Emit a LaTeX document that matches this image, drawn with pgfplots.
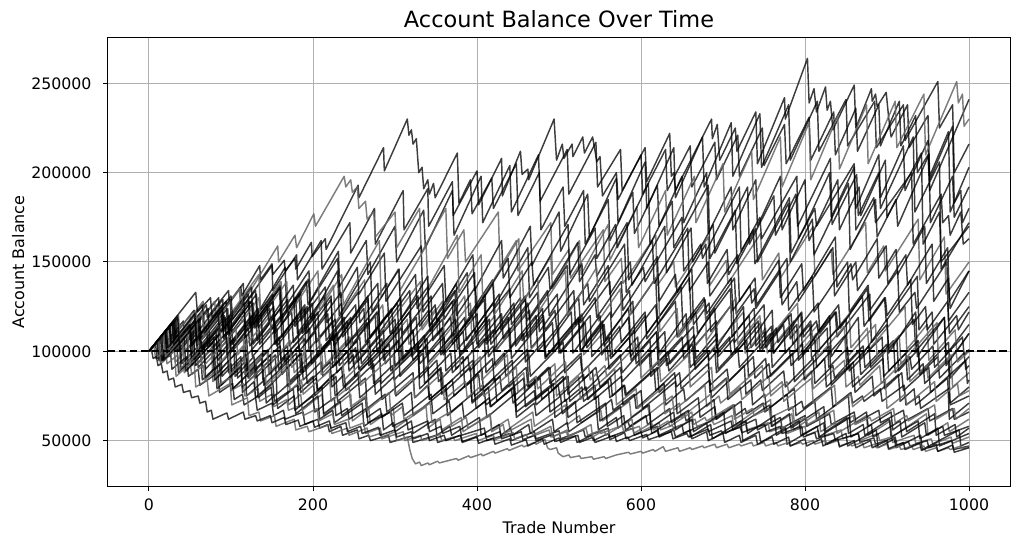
\documentclass[border=0pt]{standalone}
\usepackage{fontspec}
\setmainfont{DejaVu Sans}
\usepackage{pgfplots}
\pgfplotsset{compat=1.18}
% balances are in thousands; tick labels show the full numbers
\pgfplotsset{
  dk/.style={black, opacity=0.76, line width=1.45bp},
  gy/.style={black!60, opacity=0.85, line width=1.45bp},
}
\begin{document}
\begin{tikzpicture}
\begin{axis}[
  at={(0,0)}, anchor=south west,
  width=902bp, height=448bp, scale only axis,
  xmin=-50, xmax=1050, ymin=24.6, ymax=275.4,
  xtick={0,200,400,600,800,1000}, xticklabels={0,200,400,600,800,1000},
  ytick={50,100,150,200,250}, yticklabels={50000,100000,150000,200000,250000},
  xtick pos=bottom, ytick pos=left,
  tick align=outside, major tick length=5bp,
  tick style={black, line width=1bp},
  axis line style={line width=1bp},
  grid=major, grid style={color=black!31, line width=1bp},
  ticklabel style={font=\fontsize{15.8}{18}\selectfont},
  xticklabel style={anchor=base, yshift=-19.5bp},
  yticklabel style={anchor=east, xshift=-8bp},
  xlabel={Trade Number}, ylabel={Account Balance},
  label style={font=\fontsize{16}{19}\selectfont},
  xlabel style={at={(axis description cs:0.5,-0.105)}, anchor=base},
  ylabel style={at={(axis description cs:-0.093,0.5)}, anchor=base},
  title={Account Balance Over Time},
  title style={font=\fontsize{22.5}{26}\selectfont, at={(axis description cs:0.5,1.0105)}, anchor=base},
  every axis plot/.append style={line join=round, no markers},
]
% L1
\addplot[dk] coordinates {(0,100)(18,110)(19,104)(42,117)(43,110)(70,126)(71,119)(97,134)(98,127)(112,136)(113,131)(135,148)(136,140)(150,149)(151,143)(165,151)(166,145)(178,152)(179,146)(198,161)(199,153)(215,163)(216,157)(255,193)(256,186)(286,214)(287,201)(315,230)(317,221)(320,224)(322,216)(326,219)(329,200)(333,203)(335,191)(340,196)(342,188)(347,194)(349,186)(376,211)(378,183)(392,196)(394,177)(418,197)(420,180)(448,205)(450,176)(476,200)(478,168)(505,192)(507,170)(530,190)(532,160)(560,185)(562,162)(590,189)(592,166)(620,193)(622,170)(650,198)(652,172)(680,200)(682,166)(710,192)(712,168)(740,196)(742,170)(770,198)(772,168)(800,196)(802,172)(830,200)(832,175)(860,203)(862,180)(890,210)(892,186)(920,215)(922,190)(950,218)(952,196)(980,226)(982,183)(990,190)(992,172)(1000,180)};
% L2
\addplot[dk] coordinates {(0,100)(25,113)(26,106)(55,123)(56,114)(85,130)(86,120)(115,138)(116,126)(150,148)(151,134)(180,154)(181,140)(210,162)(211,146)(245,172)(246,155)(275,180)(276,160)(310,190)(311,168)(340,191)(341,170)(370,195)(371,176)(400,201)(402,182)(430,208)(431,187)(453,212)(455,199)(462,202)(463,196)(494,230)(497,207)(504,216)(506,208)(516,216)(517,209)(529,220)(531,211)(541,220)(544,212)(546,206)(550,209)(553,187)(570,200)(572,185)(600,210)(602,188)(630,213)(632,190)(660,215)(662,192)(690,217)(692,196)(718,221)(720,198)(748,225)(750,204)(775,227)(777,205)(805,231)(807,207)(835,234)(837,210)(862,236)(864,212)(890,238)(892,215)(915,240)(917,215)(935,232)(937,200)(950,210)(952,190)(1000,241)};
% L3
\addplot[dk] coordinates {(0,100)(8,104)(10,96)(35,109)(37,100)(62,114)(64,104)(92,120)(94,109)(125,128)(127,115)(160,137)(162,122)(195,145)(197,128)(230,152)(232,136)(265,162)(267,143)(300,170)(302,150)(335,179)(337,158)(370,190)(372,165)(405,198)(407,172)(440,204)(442,178)(475,210)(477,184)(510,213)(512,188)(545,217)(547,192)(575,213)(577,190)(605,214)(607,195)(635,222)(637,198)(640,200)(642,190)(686,230)(687,219)(693,227)(696,207)(715,225)(717,212)(740,234)(742,205)(775,242)(776,230)(803,264)(805,239)(811,247)(814,234)(825,248)(827,235)(831,240)(834,224)(860,249)(862,225)(881,247)(882,240)(886,244)(888,237)(899,245)(902,231)(905,220)(925,238)(927,214)(950,232)(952,198)(975,223)(977,178)(1000,203)};
% L4
\addplot[gy] coordinates {(0,100)(20,111)(22,104)(50,120)(52,111)(80,128)(82,118)(110,135)(112,125)(157,159)(158,150)(178,165)(180,158)(201,177)(203,170)(238,198)(240,192)(246,196)(248,189)(254,192)(256,180)(264,184)(266,174)(274,178)(276,164)(300,178)(302,158)(330,180)(332,155)(362,180)(364,152)(384,168)(386,150)(426,178)(428,147)(448,162)(450,145)(490,172)(492,143)(512,157)(514,141)(554,168)(556,139)(576,152)(578,138)(618,165)(620,137)(640,150)(642,136)(682,164)(684,137)(704,151)(706,138)(746,166)(748,140)(768,155)(770,141)(810,170)(812,142)(832,157)(834,143)(874,172)(876,144)(896,159)(898,145)(938,174)(940,140)(970,164)(972,132)(1000,150)};
% L5
\addplot[dk] coordinates {(0,100)(15,108)(17,97)(40,109)(42,99)(70,114)(72,102)(100,118)(102,104)(130,121)(132,106)(160,124)(162,108)(190,126)(192,110)(222,129)(224,113)(255,133)(257,116)(290,138)(292,120)(325,143)(327,124)(360,148)(362,128)(395,154)(397,134)(430,162)(432,141)(465,170)(467,148)(500,178)(502,156)(535,188)(537,164)(570,197)(572,172)(605,206)(607,180)(640,214)(642,186)(675,220)(677,192)(710,228)(712,198)(745,233)(747,203)(780,238)(782,207)(815,240)(817,212)(850,241)(852,215)(885,240)(887,214)(920,238)(922,218)(962,251)(964,225)(980,238)(982,200)(1000,216)};
% L6
\addplot[gy] coordinates {(0,100)(10,105)(12,96)(30,104)(32,94)(55,105)(57,92)(85,105)(87,90)(115,103)(117,88)(145,101)(147,87)(175,100)(177,88)(210,104)(212,91)(245,108)(247,95)(280,113)(282,99)(315,118)(317,104)(350,124)(352,109)(385,131)(387,115)(420,138)(422,121)(455,145)(457,128)(490,153)(492,135)(525,162)(527,143)(560,171)(562,151)(595,181)(597,158)(630,190)(632,165)(665,198)(667,172)(700,205)(702,178)(735,212)(737,185)(770,220)(772,192)(805,228)(807,196)(840,232)(842,202)(875,238)(877,205)(910,240)(912,214)(945,244)(947,210)(985,251)(987,239)(992,244)(994,226)(1000,230)};
% L7
\addplot[dk] coordinates {(0,100)(12,106)(14,95)(38,107)(40,93)(58,102)(60,91)(95,108)(97,88)(118,98)(120,86)(160,103)(162,87)(185,99)(187,88)(230,110)(232,92)(252,102)(254,94)(300,118)(302,100)(322,111)(324,102)(370,128)(372,107)(395,120)(397,110)(440,135)(442,115)(462,127)(464,118)(510,148)(512,123)(535,138)(537,128)(580,160)(582,133)(603,147)(605,139)(650,175)(652,145)(673,160)(675,152)(720,192)(722,156)(745,175)(747,163)(790,198)(792,163)(812,180)(814,170)(860,205)(862,168)(884,186)(886,172)(930,200)(932,160)(966,188)(968,172)(975,176)(977,165)(990,178)(993,160)(1000,163)};
% L8
\addplot[dk] coordinates {(0,100)(25,114)(27,101)(60,119)(62,100)(82,111)(84,95)(124,117)(126,97)(156,113)(158,90)(183,103)(185,88)(225,108)(227,92)(257,108)(259,93)(284,107)(286,95)(326,119)(328,101)(358,118)(360,104)(385,119)(387,106)(427,132)(429,112)(459,131)(461,117)(486,134)(488,120)(528,149)(530,126)(560,148)(562,132)(587,150)(589,137)(629,170)(631,144)(661,169)(663,150)(688,171)(690,155)(730,192)(732,160)(762,187)(764,165)(789,188)(791,170)(831,208)(833,171)(863,199)(865,176)(890,200)(892,180)(932,220)(934,178)(964,206)(966,146)(1000,172)};
% L9
\addplot[dk] coordinates {(0,100)(30,117)(32,104)(50,114)(52,103)(94,128)(96,112)(122,128)(124,113)(159,135)(161,118)(183,132)(185,117)(215,136)(217,116)(235,127)(237,112)(279,138)(281,114)(307,130)(309,110)(344,131)(346,106)(368,119)(370,104)(400,121)(402,102)(420,112)(422,100)(464,123)(466,102)(492,116)(494,100)(529,119)(531,104)(553,117)(555,106)(585,124)(587,109)(605,120)(607,110)(649,136)(651,114)(677,130)(679,118)(714,141)(716,121)(738,135)(740,124)(770,145)(772,126)(790,139)(792,128)(834,158)(836,131)(862,150)(864,134)(899,159)(901,138)(923,154)(925,137)(955,160)(957,128)(975,141)(977,124)(1000,145)};
% L10
\addplot[dk] coordinates {(0,100)(20,111)(22,98)(52,114)(54,95)(79,108)(81,90)(119,109)(121,88)(137,96)(139,84)(167,97)(169,80)(203,95)(205,78)(225,87)(227,75)(255,87)(257,74)(282,84)(284,73)(322,88)(324,74)(340,81)(342,73)(370,84)(372,75)(406,90)(408,77)(428,86)(430,78)(460,91)(462,80)(487,91)(489,82)(527,99)(529,84)(545,91)(547,85)(575,98)(577,88)(611,106)(613,90)(633,100)(635,93)(665,109)(667,96)(692,110)(694,99)(732,120)(734,102)(750,111)(752,104)(780,120)(782,107)(816,127)(818,110)(838,122)(840,112)(870,131)(872,114)(897,130)(899,117)(937,142)(939,112)(955,122)(957,104)(985,120)(987,112)(1000,122)};
% L11
\addplot[dk] coordinates {(0,100)(35,120)(37,104)(59,117)(61,105)(89,122)(91,107)(131,132)(133,113)(152,125)(154,113)(185,133)(187,110)(222,131)(224,106)(246,119)(248,104)(276,120)(278,100)(318,122)(320,97)(339,107)(341,94)(372,110)(374,90)(409,107)(411,88)(433,99)(435,86)(463,99)(465,86)(505,105)(507,88)(526,97)(528,88)(559,103)(561,90)(596,108)(598,92)(620,103)(622,94)(650,108)(652,96)(692,117)(694,97)(713,107)(715,99)(746,116)(748,101)(783,121)(785,104)(807,117)(809,106)(837,122)(839,108)(879,132)(881,105)(900,115)(902,101)(933,118)(935,100)(970,119)(972,98)(1000,115)};
% L12
\addplot[gy] coordinates {(0,100)(28,116)(30,106)(66,128)(68,114)(88,126)(90,115)(134,143)(136,123)(161,139)(163,120)(195,141)(197,118)(225,137)(227,116)(263,140)(265,113)(285,126)(287,112)(331,139)(333,112)(358,128)(360,108)(392,127)(394,104)(422,120)(424,101)(460,122)(462,99)(482,110)(484,97)(528,121)(530,98)(555,111)(557,95)(589,112)(591,96)(619,111)(621,97)(657,117)(659,99)(679,110)(681,98)(725,122)(727,99)(752,113)(754,99)(786,117)(788,100)(816,115)(818,101)(854,121)(856,102)(876,113)(878,101)(922,125)(924,101)(949,115)(951,95)(983,112)(985,100)(1000,110)};
% L13
\addplot[dk] coordinates {(0,100)(18,110)(20,96)(46,110)(48,92)(82,109)(84,88)(106,99)(108,85)(138,99)(140,81)(180,99)(182,78)(200,86)(202,75)(228,86)(230,72)(264,85)(266,68)(288,76)(290,66)(320,77)(322,64)(362,79)(364,64)(382,71)(384,63)(410,72)(412,63)(446,76)(448,63)(470,71)(472,64)(502,75)(504,65)(544,81)(546,66)(564,73)(566,67)(592,76)(594,68)(628,82)(630,70)(652,79)(654,72)(684,84)(686,74)(726,92)(728,76)(746,84)(748,78)(774,89)(776,80)(810,96)(812,82)(834,92)(836,85)(866,100)(868,87)(908,106)(910,88)(928,97)(930,90)(956,103)(958,91)(992,108)(994,98)(1000,101)};
% L14
\addplot[dk] coordinates {(0,100)(32,118)(34,100)(58,113)(60,99)(98,120)(100,101)(121,113)(123,103)(152,120)(154,104)(189,124)(191,105)(218,121)(220,107)(252,126)(254,108)(278,122)(280,110)(318,134)(320,110)(341,123)(343,111)(372,129)(374,108)(409,129)(411,104)(438,119)(440,102)(472,120)(474,100)(498,113)(500,99)(538,120)(540,97)(561,108)(563,96)(592,111)(594,93)(629,111)(631,92)(658,106)(660,91)(692,107)(694,90)(718,102)(720,91)(758,110)(760,91)(781,102)(783,92)(812,107)(814,91)(849,109)(851,90)(878,103)(880,91)(912,107)(914,89)(938,101)(940,88)(975,105)(977,85)(1000,97)};
% L15
\addplot[dk] coordinates {(0,100)(22,112)(24,97)(54,113)(56,92)(98,112)(100,88)(119,97)(121,85)(148,98)(150,82)(186,99)(188,84)(210,94)(212,86)(242,100)(244,89)(286,112)(288,93)(307,103)(309,95)(336,109)(338,98)(374,118)(376,101)(398,113)(400,104)(430,121)(432,107)(474,133)(476,111)(495,123)(497,113)(524,130)(526,116)(562,139)(564,119)(586,134)(588,121)(618,141)(620,118)(662,146)(664,115)(683,127)(685,111)(712,127)(714,105)(750,126)(752,102)(774,115)(776,99)(806,115)(808,96)(850,118)(852,94)(871,103)(873,91)(900,104)(902,89)(938,106)(940,87)(962,97)(964,85)(994,99)(996,90)(1000,92)};
% L16
\addplot[gy] coordinates {(0,100)(15,108)(17,94)(41,106)(43,88)(76,104)(78,83)(98,92)(100,78)(128,90)(130,74)(168,90)(170,70)(185,76)(187,67)(211,76)(213,64)(246,76)(248,61)(268,68)(270,59)(298,68)(300,57)(338,69)(340,57)(355,62)(357,56)(381,63)(383,55)(416,65)(418,56)(438,62)(440,57)(468,66)(470,58)(508,70)(510,59)(525,64)(527,60)(551,67)(553,61)(586,72)(588,63)(608,70)(610,65)(638,75)(640,67)(678,81)(680,69)(695,75)(697,71)(721,80)(723,73)(756,86)(758,75)(778,83)(780,77)(808,89)(810,79)(848,95)(850,80)(865,86)(867,81)(891,92)(893,82)(926,97)(928,83)(948,92)(950,85)(978,98)(980,80)(1000,88)};
% L17
\addplot[dk] coordinates {(0,100)(26,114)(28,104)(65,126)(67,110)(88,123)(90,112)(121,132)(123,114)(166,147)(168,122)(192,139)(194,126)(231,156)(233,130)(254,147)(256,132)(287,155)(289,128)(332,159)(334,122)(358,138)(360,118)(397,144)(399,114)(420,127)(422,110)(453,130)(455,106)(498,132)(500,104)(524,118)(526,100)(563,122)(565,97)(586,108)(588,95)(619,111)(621,92)(664,114)(666,90)(690,102)(692,88)(729,106)(731,86)(752,96)(754,85)(785,99)(787,83)(830,103)(832,81)(856,92)(858,80)(895,96)(897,79)(918,88)(920,78)(951,91)(953,77)(996,95)(998,82)(1000,84)};
% L18
\addplot[dk] coordinates {(0,100)(19,110)(21,96)(50,111)(52,92)(87,110)(89,86)(112,97)(114,80)(154,98)(156,76)(183,87)(185,77)(204,85)(206,78)(235,91)(237,80)(272,96)(274,82)(297,92)(299,84)(339,103)(341,86)(368,99)(370,88)(389,97)(391,89)(420,103)(422,92)(457,110)(459,94)(482,106)(484,97)(524,119)(526,100)(553,115)(555,103)(574,114)(576,105)(605,122)(607,107)(642,128)(644,108)(667,122)(669,110)(709,135)(711,108)(738,124)(740,103)(759,114)(761,99)(790,115)(792,95)(827,113)(829,91)(852,102)(854,89)(894,108)(896,86)(923,99)(925,84)(944,93)(946,82)(975,95)(977,71)(1000,80)};
% L19
\addplot[dk] coordinates {(0,100)(12,107)(14,94)(34,104)(36,88)(63,101)(65,84)(81,91)(83,79)(117,94)(119,75)(141,84)(143,71)(155,76)(157,68)(177,75)(179,65)(206,75)(208,62)(224,67)(226,60)(260,71)(262,58)(284,65)(286,56)(298,60)(300,55)(320,61)(322,54)(349,62)(351,53)(367,58)(369,53)(403,63)(405,53)(427,59)(429,53)(441,57)(443,53)(463,59)(465,54)(492,62)(494,55)(510,60)(512,55)(546,66)(548,56)(570,63)(572,57)(584,61)(586,58)(606,64)(608,59)(635,68)(637,60)(653,65)(655,61)(689,73)(691,62)(713,70)(715,64)(727,68)(729,65)(749,71)(751,66)(778,76)(780,67)(796,72)(798,68)(832,80)(834,69)(856,77)(858,71)(870,75)(872,72)(892,79)(894,72)(921,81)(923,70)(939,75)(941,68)(975,79)(977,70)(1000,75)};
% L20
\addplot[dk] coordinates {(0,100)(30,117)(32,105)(49,115)(51,106)(90,129)(91,111)(116,127)(118,112)(151,132)(153,110)(174,122)(176,105)(206,122)(208,100)(225,109)(227,96)(266,116)(268,92)(293,104)(295,89)(328,104)(330,85)(351,95)(353,83)(383,97)(385,80)(402,87)(404,78)(443,95)(445,75)(470,85)(472,73)(505,86)(507,72)(528,80)(530,72)(560,83)(562,74)(579,81)(581,75)(620,91)(622,77)(647,88)(649,79)(682,93)(684,81)(705,90)(707,83)(737,97)(739,85)(756,93)(758,86)(797,104)(799,84)(824,96)(826,80)(859,94)(861,77)(882,86)(884,75)(914,87)(916,72)(933,79)(935,70)(974,85)(976,62)(1000,71)};
% L21
\addplot[dk] coordinates {(0,100)(10,105)(12,95)(26,101)(28,90)(46,97)(48,86)(60,90)(62,81)(84,88)(86,77)(102,82)(104,73)(114,76)(116,70)(130,74)(132,67)(150,71)(152,64)(164,67)(166,62)(188,66)(190,59)(206,62)(208,57)(218,59)(220,55)(234,58)(236,53)(254,56)(256,51)(268,53)(270,50)(292,53)(294,49)(320,52.5)(322,49)(350,53)(352,49)(380,53)(382,49.5)(410,54)(412,50)(440,54)(442,50)(470,55)(472,51)(500,55.5)(502,51)(530,56)(532,52)(560,57)(562,52)(590,57)(592,53)(620,58)(622,53)(650,59)(652,54)(680,60)(682,55)(710,61)(712,56)(740,62)(742,56)(770,63)(772,57)(800,64)(802,58)(830,65)(832,59)(860,66)(862,60)(890,67)(892,60)(920,67)(922,61)(950,68)(952,61)(980,68)(982,62)(1000,66)};
% L22
\addplot[gy] coordinates {(0,100)(24,113)(26,98)(57,114)(59,93)(77,102)(79,90)(115,108)(117,87)(144,100)(146,88)(188,108)(190,89)(214,101)(216,92)(247,108)(249,93)(267,102)(269,94)(305,113)(307,93)(334,107)(336,90)(378,111)(380,86)(404,97)(406,84)(437,98)(439,80)(457,88)(459,78)(495,93)(497,75)(524,86)(526,73)(568,90)(570,70)(594,79)(596,68)(627,80)(629,65)(647,71)(649,63)(685,76)(687,61)(714,70)(716,59)(758,73)(760,58)(784,65)(786,56)(817,66)(819,55)(837,60)(839,54)(875,64)(877,53)(904,61)(906,52)(948,65)(950,53)(974,60)(976,55)(1000,62)};
% L23
\addplot[dk] coordinates {(0,100)(20,111)(22,97)(50,112)(52,94)(67,102)(69,90)(103,107)(105,86)(128,97)(130,85)(169,103)(171,83)(191,92)(193,82)(221,94)(223,80)(238,87)(240,78)(274,93)(276,76)(299,86)(301,75)(340,91)(342,73)(362,81)(364,72)(392,83)(394,71)(409,77)(411,70)(445,83)(447,69)(470,78)(472,70)(511,86)(513,72)(533,80)(535,73)(563,85)(565,75)(580,81)(582,76)(616,90)(618,78)(641,88)(643,80)(682,98)(684,77)(704,85)(706,73)(734,84)(736,70)(751,76)(753,67)(787,79)(789,64)(812,72)(814,62)(853,75)(855,60)(875,66)(877,58)(905,66)(907,56)(922,61)(924,55)(958,65)(960,53)(983,59)(985,52)(1000,57)};
% L24
\addplot[dk] coordinates {(0,100)(33,118)(35,104)(57,117)(59,105)(99,129)(101,111)(127,127)(129,113)(147,124)(149,112)(179,130)(181,110)(214,131)(216,106)(238,119)(240,103)(280,126)(282,99)(308,113)(310,96)(328,105)(330,93)(360,108)(362,89)(395,105)(397,86)(419,96)(421,83)(461,101)(463,80)(489,91)(491,78)(509,86)(511,76)(541,89)(543,73)(576,86)(578,70)(600,78)(602,68)(642,83)(644,65)(670,74)(672,63)(690,69)(692,62)(722,72)(724,60)(757,70)(759,58)(781,65)(783,57)(823,69)(825,55)(851,63)(853,54)(871,59)(873,53)(903,62)(905,52)(938,61)(940,51)(962,57)(964,47)(1000,54)};
% L25
\addplot[gy] coordinates {(0,100)(12,106)(14,93)(31,101)(33,86)(55,95)(57,80)(71,84)(73,75)(99,82)(101,70)(120,74)(122,64)(134,66)(136,61)(153,64)(155,58)(177,62)(179,56)(193,58)(195,55)(221,59)(223,54)(242,57)(244,53)(266,57)(268,52)(282,54)(284,51)(310,55)(312,50)(331,53)(333,50)(355,53.5)(357,50)(371,52)(373,50)(399,54)(401,50)(420,53)(422,50.5)(444,54.5)(446,51)(460,53.5)(462,51.5)(488,56)(490,52)(509,55)(511,52.5)(533,57)(535,53)(549,55.5)(551,54)(577,58.5)(579,55)(598,58)(600,55)(622,60)(624,56)(638,58.5)(640,57)(666,62)(668,58)(687,61)(689,59)(711,64)(713,58)(727,60.5)(729,56)(755,60)(757,55)(776,58)(778,54)(800,58)(802,53)(816,55.5)(818,52)(844,56)(846,51)(865,54)(867,50)(889,54)(891,50)(905,52)(907,49)(933,53)(935,48.5)(954,51)(956,48)(978,52)(980,48.5)(1000,52)};
% L26
\addplot[dk] coordinates {(0,100)(25,114)(27,100)(62,121)(64,102)(84,113)(86,101)(116,118)(118,97)(163,121)(165,94)(190,107)(192,92)(227,110)(229,88)(249,98)(251,86)(281,100)(283,82)(328,102)(330,79)(355,90)(357,76)(392,91)(394,72)(414,80)(416,69)(446,80)(448,66)(493,82)(495,63)(520,72)(522,60)(557,71)(559,58)(579,64)(581,56)(611,65)(613,54)(658,67)(660,52)(685,59)(687,51)(722,61)(724,50)(744,55)(746,49)(776,57)(778,48)(823,60)(825,48)(850,54)(852,47)(887,56)(889,46)(909,51)(911,46)(941,53)(943,45)(988,56)(990,47)(1000,49)};
% L27
\addplot[dk] coordinates {(0,100)(14,108)(16,95)(37,106)(39,90)(67,104)(69,85)(86,93)(88,81)(112,91)(114,77)(128,83)(130,74)(151,82)(153,72)(181,81)(183,69)(200,75)(202,66)(226,74)(228,64)(242,68)(244,62)(265,68)(267,60)(295,66)(297,58)(314,62)(316,56)(340,61)(342,55)(356,58)(358,54)(379,58)(381,53)(409,57)(411,52)(428,55)(430,51)(454,55)(456,50.5)(470,53)(472,50)(493,53.5)(495,49.5)(523,53)(525,49)(542,52)(544,49)(568,53)(570,49.5)(584,52)(586,50)(607,53.5)(609,50.5)(637,55)(639,51)(656,54)(658,52)(682,56.5)(684,53)(698,55.5)(700,54)(721,57.5)(723,54.5)(751,59)(753,55)(770,58)(772,54)(796,58)(798,52)(812,54.5)(814,51)(835,54)(837,50)(865,54)(867,49)(884,51.5)(886,48)(910,52)(912,47.5)(926,49.5)(928,47)(949,50)(951,46)(979,50)(981,45)(1000,47)};
% L28
\addplot[dk] coordinates {(0,100)(29,116)(31,101)(72,124)(74,103)(97,116)(99,104)(133,124)(135,104)(154,115)(156,103)(193,125)(195,101)(224,117)(226,103)(267,131)(269,107)(292,121)(294,110)(328,131)(330,114)(349,126)(351,117)(388,144)(390,120)(419,140)(421,125)(462,158)(464,130)(487,147)(489,135)(523,161)(525,139)(544,154)(546,142)(583,172)(585,140)(614,162)(616,138)(657,169)(659,134)(682,150)(684,131)(718,154)(720,128)(739,141)(741,126)(778,152)(780,123)(809,142)(811,122)(852,150)(854,122)(877,137)(879,123)(913,145)(915,122)(934,133)(936,124)(973,150)(975,117)(1000,133)};
% L29 (lowest)
\addplot[gy] coordinates {(0,100)(6,103)(8,96)(20,101)(22,93)(35,98)(37,90)(50,95)(52,87)(66,92)(68,84)(82,89)(84,81)(98,85)(100,78)(115,82)(117,75)(133,79)(135,72)(150,76)(152,69)(168,73)(170,67)(186,70)(188,64)(205,68)(207,61)(224,65)(226,59)(243,62)(245,57)(262,60)(264,54)(282,57)(284,52)(300,55)(302,50)(315,52)(318,45)(321,40)(325,37)(330,38)(332,36)(340,37.5)(342,36.5)(352,38.5)(354,37.5)(375,40)(377,39)(390,41.5)(392,40.5)(405,42.5)(407,41.5)(420,44)(422,43)(437,45.5)(439,44.5)(455,47.5)(457,46.5)(470,49)(472,48)(483,50.6)(486,46)(489,45)(497,46)(499,43)(505,41)(512,42)(514,40.5)(525,41.5)(527,40)(540,41)(542,39.6)(555,41)(557,40)(570,42)(585,43.5)(587,42.5)(600,44)(602,43)(615,45)(617,44)(627,46.6)(630,44)(645,46)(647,44)(660,46)(662,45)(675,47)(677,46)(690,48)(692,46)(705,48)(707,46)(720,48)(722,47)(735,49)(737,47)(750,49)(752,47)(765,49)(767,47)(780,49)(782,47)(795,49)(797,48)(810,50)(812,48)(825,50)(827,48)(840,50)(842,47)(855,49)(857,47)(870,49)(872,46)(885,48)(887,46)(900,48)(902,45)(915,47)(917,45)(930,47)(932,45)(945,47)(947,44)(960,46)(962,44)(975,46)(977,45)(990,47)(992,45.5)(1000,46.5)};
% L30
\addplot[dk] coordinates {(0,100)(3,101)(5,96)(9,97)(11,92)(15,93)(17,88)(22,89)(24,84)(30,85)(32,80)(40,81.5)(42,77)(50,78)(52,74)(60,75)(62,71)(69,72)(71,66)(76,67)(78,62)(95,65.5)(97,62)(115,66)(117,62)(130,64)(132,61)(148,64)(150,60)(165,63)(167,59)(182,61.5)(184,58)(200,61)(202,57.5)(220,61)(222,57)(240,60)(242,55)(258,58)(260,54)(280,57.5)(282,53)(300,56)(302,52)(320,55)(322,51)(340,54)(342,50)(360,53)(362,50)(380,53)(382,49)(400,52)(402,48.5)(420,51.5)(422,48)(440,51)(442,47.5)(460,50.5)(462,47)(480,51)(482,48)(500,51.5)(502,49)(520,52.5)(522,49)(540,53)(542,50)(560,54)(562,50.5)(580,54.5)(582,51)(600,55)(602,51.5)(620,55.5)(622,52)(640,56)(642,52)(660,56)(662,51)(680,55)(682,50)(700,54)(702,49)(720,53)(722,49)(740,53)(742,48)(760,52)(762,48)(780,52)(782,47)(800,51)(802,47)(820,51)(822,47)(840,51)(842,46.5)(860,50)(862,46)(880,50)(882,46)(900,50)(902,45.5)(920,49)(922,45)(940,48.5)(942,44.5)(960,48)(962,44)(980,47.5)(982,43.5)(1000,46)};
% L31
\addplot[gy] coordinates {(0,100)(36,120)(38,106)(65,122)(67,108)(111,135)(113,116)(134,130)(136,118)(168,139)(170,120)(206,145)(208,123)(235,143)(237,126)(281,162)(283,130)(304,146)(306,134)(338,159)(340,135)(376,165)(378,133)(405,154)(407,130)(451,163)(453,126)(474,141)(476,123)(508,145)(510,120)(546,147)(548,117)(575,135)(577,114)(621,143)(623,111)(644,124)(646,108)(678,127)(680,106)(716,130)(718,104)(745,120)(747,102)(791,127)(793,99)(814,110)(816,97)(848,114)(850,96)(886,115)(888,95)(915,109)(917,93)(961,116)(963,90)(984,100)(986,94)(1000,100)};
% L32
\addplot[dk] coordinates {(0,100)(16,109)(18,95)(43,108)(45,89)(78,105)(80,84)(100,93)(102,79)(131,92)(133,74)(149,80)(151,70)(176,79)(178,67)(211,80)(213,65)(233,72)(235,64)(264,74)(266,63)(282,68)(284,63)(309,71)(311,64)(344,76)(346,65)(366,72)(368,66)(397,77)(399,68)(415,74)(417,69)(442,79)(444,71)(477,85)(479,73)(499,81)(501,75)(530,87)(532,78)(548,85)(550,80)(575,91)(577,83)(610,99)(612,86)(632,96)(634,89)(663,104)(665,92)(681,100)(683,95)(708,108)(710,98)(743,117)(745,101)(765,113)(767,105)(796,122)(798,108)(814,117)(816,111)(841,126)(843,113)(876,135)(878,117)(898,130)(900,120)(929,140)(931,115)(947,125)(949,112)(974,128)(976,110)(1000,125)};
% L33
\addplot[dk] coordinates {(0,100)(31,117)(33,104)(56,117)(58,103)(96,124)(98,104)(125,120)(127,104)(169,129)(171,103)(202,121)(204,105)(227,118)(229,106)(267,129)(269,108)(296,124)(298,110)(340,136)(342,114)(373,134)(375,120)(398,136)(400,124)(438,152)(440,130)(467,150)(469,137)(511,171)(513,143)(544,169)(546,152)(569,171)(571,158)(609,194)(611,160)(638,184)(640,158)(682,193)(684,152)(715,179)(717,149)(740,169)(742,150)(780,183)(782,150)(809,174)(811,154)(853,194)(855,157)(886,185)(888,164)(911,185)(913,170)(951,210)(953,172)(980,198)(982,175)(1000,192)};
% L34
\addplot[gy] coordinates {(0,100)(22,112)(24,101)(58,121)(60,104)(86,120)(88,102)(106,113)(108,98)(148,120)(150,94)(172,106)(174,91)(208,108)(210,87)(236,99)(238,84)(256,92)(258,81)(298,98)(300,76)(322,85)(324,74)(358,88)(360,73)(386,83)(388,74)(406,81)(408,75)(448,91)(450,77)(472,86)(474,79)(508,94)(510,81)(536,92)(538,84)(556,92)(558,86)(598,105)(600,85)(622,95)(624,83)(658,98)(660,80)(686,91)(688,78)(706,85)(708,76)(748,92)(750,74)(772,83)(774,72)(808,85)(810,71)(836,81)(838,70)(856,76)(858,69)(898,84)(900,68)(922,76)(924,70)(958,83)(960,72)(986,82)(988,75)(1000,78)};
% L35
\addplot[gy] coordinates {(0,100)(18,110)(20,97)(47,111)(49,94)(63,101)(65,91)(97,107)(99,87)(121,98)(123,84)(141,92)(143,81)(170,93)(172,78)(186,84)(188,76)(220,89)(222,72)(244,80)(246,69)(264,75)(266,67)(293,77)(295,64)(309,69)(311,62)(343,71)(345,60)(367,66)(369,58)(387,63)(389,57)(416,64)(418,55)(432,59)(434,54)(466,62)(468,53)(490,58)(492,52)(510,56)(512,52)(539,59)(541,52)(555,56)(557,53)(589,62)(591,54)(613,60)(615,56)(633,61)(635,58)(662,66)(664,59)(678,63)(680,61)(712,70)(714,62)(736,68)(738,64)(756,68)(758,63)(785,69)(787,60)(801,63)(803,59)(835,67)(837,58)(859,64)(861,59)(879,63)(881,61)(908,68)(910,60)(924,64)(926,61)(958,70)(960,62)(982,68)(984,62)(1000,68)};
% L36
\addplot[dk] coordinates {(0,100)(28,116)(30,104)(50,115)(52,104)(89,125)(91,108)(116,123)(118,108)(151,128)(153,104)(181,120)(183,100)(203,111)(205,97)(242,117)(244,93)(269,106)(271,90)(304,106)(306,86)(334,99)(336,82)(356,91)(358,79)(395,95)(397,75)(422,85)(424,72)(457,85)(459,69)(487,79)(489,66)(509,73)(511,63)(548,75)(550,61)(575,69)(577,59)(610,70)(612,57)(640,66)(642,56)(662,62)(664,55)(701,66)(703,54)(728,61)(730,54)(763,64)(765,53)(793,61)(795,53)(815,58)(817,52)(854,63)(856,52)(881,59)(883,52)(916,61)(918,52)(946,60)(948,53)(968,58)(970,53)(1000,58)};
% L37
\addplot[dk] coordinates {(0,100)(35,119)(37,104)(61,118)(63,102)(93,119)(95,98)(137,121)(139,97)(159,108)(161,95)(196,113)(198,93)(222,105)(224,91)(254,106)(256,90)(298,111)(300,92)(320,102)(322,95)(357,113)(359,98)(383,111)(385,101)(415,118)(417,104)(459,129)(461,108)(481,120)(483,112)(518,134)(520,115)(544,130)(546,119)(576,139)(578,123)(620,153)(622,128)(642,143)(644,133)(679,160)(681,138)(705,157)(707,143)(737,168)(739,149)(781,186)(783,155)(803,173)(805,162)(840,196)(842,168)(866,192)(868,176)(898,207)(900,175)(942,211)(944,160)(964,178)(966,150)(1000,170)};
% L38
\addplot[dk] coordinates {(0,100)(21,112)(23,102)(56,121)(58,106)(84,122)(86,111)(125,136)(127,115)(144,126)(146,117)(176,137)(178,114)(199,127)(201,112)(234,133)(236,108)(262,124)(264,105)(303,127)(305,102)(322,112)(324,101)(354,118)(356,98)(377,110)(379,98)(412,119)(414,97)(440,113)(442,96)(481,118)(483,96)(500,105)(502,99)(532,116)(534,102)(555,115)(557,106)(590,128)(592,110)(618,126)(620,115)(659,141)(661,118)(678,129)(680,121)(710,141)(712,123)(733,137)(735,127)(768,151)(770,130)(796,149)(798,134)(837,164)(839,136)(856,149)(858,140)(888,163)(890,141)(911,157)(913,143)(946,170)(948,138)(974,158)(976,128)(1000,145)};
% L39
\addplot[dk] coordinates {(0,100)(57,133)(59,122)(75,130)(77,119)(100,131)(102,118)(130,134)(132,116)(160,136)(162,115)(195,140)(197,118)(230,145)(232,120)(270,150)(272,122)(305,146)(307,118)(340,142)(342,114)(375,138)(377,110)(410,132)(412,106)(445,127)(447,103)(480,124)(482,101)(515,122)(517,99)(550,120)(552,98)(585,119)(587,97)(620,118)(622,99)(655,121)(657,101)(690,124)(692,102)(725,125)(727,101)(760,123)(762,99)(795,121)(797,98)(830,120)(832,97)(865,119)(867,96)(900,118)(902,99)(935,122)(937,97)(970,119)(972,92)(1000,110)};
% starting balance
\addplot[black, line width=1.9bp, dash pattern=on 7.5bp off 3.5bp] coordinates {(-50,100) (1050,100)};
\end{axis}
\pgfresetboundingbox
\path[use as bounding box] (-108bp,-63bp) rectangle (914bp,486bp);
\end{tikzpicture}
\end{document}
